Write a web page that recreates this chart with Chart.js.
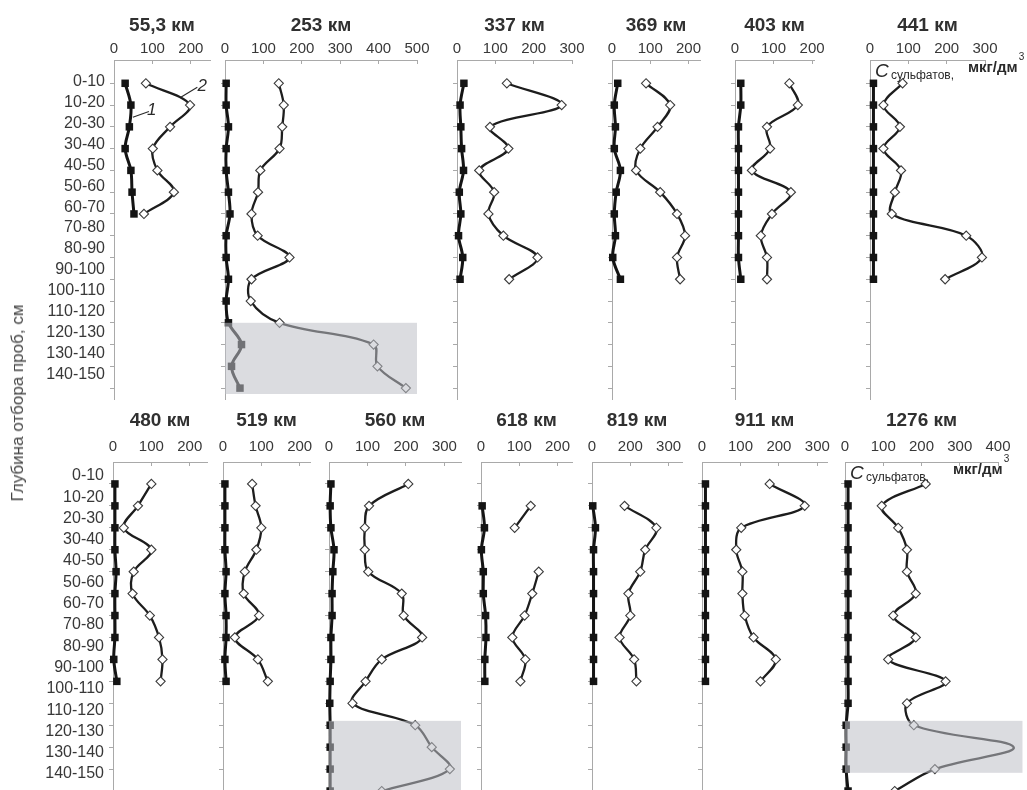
<!DOCTYPE html>
<html lang="ru">
<head>
<meta charset="utf-8">
<title>Сульфаты по глубине</title>
<script src="https://cdn.jsdelivr.net/npm/chart.js@4.4.1/dist/chart.umd.min.js"></script>
<style>
  html, body { margin: 0; padding: 0; background: #fff; overflow: hidden; width: 1027px; height: 790px; }
  #wrap { position: relative; width: 1027px; height: 790px; overflow: hidden; background: #fff; }
  .panel { position: absolute; }
  .panel canvas { display: block; }
  #ytitle {
    position: absolute; left: 17.5px; top: 403px;
    transform: translate(-50%, -50%) rotate(-90deg);
    white-space: nowrap; font: 17px "Liberation Sans", Arial, sans-serif; color: #444; z-index: 5;
  }
</style>
</head>
<body>
<div id="wrap"><div id="ytitle">Глубина отбора проб, см</div></div>
<script>
// Depth intervals (cm), shared by every profile
const depthLabels = ['0-10', '10-20', '20-30', '30-40', '40-50', '50-60', '60-70', '70-80',
  '80-90', '90-100', '100-110', '110-120', '120-130', '130-140', '140-150'];

// Station names (distance along the river)
const stations = ['55,3 км', '253 км', '337 км', '369 км', '403 км', '441 км',
  '480 км', '519 км', '560 км', '618 км', '819 км', '911 км', '1276 км'];

// Series 1 (filled squares) and series 2 (open diamonds), sulfate content, µg/dm³
const s1_55 = [29, 44, 40, 29, 44, 47, 52];
const s2_55 = [83, 198, 146, 101, 113, 156, 78];
const s1_253 = [3, 3, 9, 3, 3, 9, 13, 3, 3, 9, 3, 9, 43, 17, 39];
const s2_253 = [140, 153, 149, 142, 92, 86, 69, 85, 168, 69, 67, 142, 387, 397, 471];
const s1_337 = [18, 8, 10, 12, 17, 6, 10, 4, 15, 8];
const s2_337 = [130, 273, 86, 134, 58, 97, 82, 121, 210, 136];
const s1_369 = [15, 6, 9, 6, 22, 11, 6, 9, 2, 22];
const s2_369 = [89, 152, 119, 74, 63, 126, 170, 191, 170, 178];
const s1_403 = [15, 15, 9, 9, 9, 9, 9, 9, 9, 15];
const s2_403 = [141, 163, 83, 91, 44, 145, 96, 67, 83, 83];
const s1_441 = [9, 9, 9, 9, 9, 9, 9, 9, 9, 9];
const s2_441 = [85, 35, 78, 35, 81, 65, 57, 251, 292, 196];
const s1_480 = [5, 5, 5, 5, 8, 5, 5, 5, 2, 10];
const s2_480 = [100, 65, 28, 100, 54, 51, 96, 120, 129, 124];
const s1_519 = [5, 5, 5, 5, 8, 5, 8, 8, 5, 8];
const s2_519 = [76, 85, 100, 87, 57, 54, 94, 31, 91, 117];
const s1_560 = [5, 3, 5, 13, 10, 8, 8, 5, 5, 3, 2, 3, 3, 3, 3];
const s2_560 = [206, 104, 93, 93, 102, 189, 194, 242, 137, 95, 61, 224, 267, 314, 137];
const s1_618 = [null, 3, 9, 1, 6, 6, 12, 13, 10, 10];
const s2_618 = [null, 130, 88, null, 151, 134, 114, 82, 116, 103];
const s1_819 = [null, 2, 9, 4, 4, 4, 4, 4, 4, 4];
const s2_819 = [null, 85, 168, 139, 126, 95, 100, 72, 110, 116];
const s1_911 = [9, 9, 9, 9, 9, 9, 9, 9, 9, 9];
const s2_911 = [176, 267, 102, 89, 105, 105, 111, 134, 192, 152];
const s1_1276 = [8, 8, 8, 8, 8, 8, 8, 8, 8, 8, 8, 3, 3, 3, 8];
const s2_1276 = [211, 96, 139, 162, 162, 185, 126, 185, 113, 263, 162, 180, 441, 235, 130];

// Axis tick captions for the 819 km profile as printed on its axis
const ticks819 = ['0', '200', '300'];

const FONT = '"Liberation Sans", Arial, Helvetica, sans-serif';
const PX_PER_100 = 38.35;
const AXIS_GREY = '#a9a9a9';
const TEXT = '#383838';

Chart.defaults.font.family = FONT;
Chart.defaults.color = TEXT;
Chart.defaults.animation = false;

// Row geometry (page pixels)
const rows = {
  top:    { axisY: 60,  head: 60, plotH: 339, yMin: -1.07, yMax: 14.5, labFirst: 81.7,  labStep: 20.9, titlePad: 14.5, tickPad: 6.3 },
  bottom: { axisY: 462, head: 62, plotH: 340, yMin: -1.0,  yMax: 14.5, labFirst: 475.8, labStep: 21.3, titlePad: 9.5,  tickPad: 9.7 }
};

const panels = [
  { title: stations[0],  row: 'top',    zero: 114, max: 250, s1: s1_55,   s2: s2_55,   labels: true,
    marks: [ { text: '2', at: [230, 0.12], from: [217, 0.18], to: [174, 0.64] },
             { text: '1', at: [98, 1.23],  from: [91, 1.30],  to: [49, 1.56] } ] },
  { title: stations[1],  row: 'top',    zero: 225, max: 500, s1: s1_253,  s2: s2_253,  shade: [11.0, 14.27] },
  { title: stations[2],  row: 'top',    zero: 457, max: 300, s1: s1_337,  s2: s2_337 },
  { title: stations[3],  row: 'top',    zero: 612, max: 230, s1: s1_369,  s2: s2_369 },
  { title: stations[4],  row: 'top',    zero: 735, max: 205, s1: s1_403,  s2: s2_403 },
  { title: stations[5],  row: 'top',    zero: 870, max: 300, s1: s1_441,  s2: s2_441,  unitAt: 98 },
  { title: stations[6],  row: 'bottom', zero: 113, max: 245, s1: s1_480,  s2: s2_480,  labels: true },
  { title: stations[7],  row: 'bottom', zero: 223, max: 227, s1: s1_519,  s2: s2_519 },
  { title: stations[8],  row: 'bottom', zero: 329, max: 343, s1: s1_560,  s2: s2_560,  shade: [10.8, 14.6] },
  { title: stations[9],  row: 'bottom', zero: 481, max: 238, s1: s1_618,  s2: s2_618 },
  { title: stations[10], row: 'bottom', zero: 592, max: 235, s1: s1_819,  s2: s2_819,  tickText: ticks819 },
  { title: stations[11], row: 'bottom', zero: 702, max: 325, s1: s1_911,  s2: s2_911 },
  { title: stations[12], row: 'bottom', zero: 845, max: 400, s1: s1_1276, s2: s2_1276, shade: [10.8, 13.17], shadeTo: 464, unitAt: 108 }
];

const wrap = document.getElementById('wrap');
const toPoints = arr => arr.map((v, i) => ({ x: v, y: i }));

panels.forEach(p => {
  const row = rows[p.row];
  const L = p.labels ? 112 : 50;
  const R = 60, B = 20;
  const axisLen = Math.round(p.max * PX_PER_100 / 100);

  const box = document.createElement('div');
  box.className = 'panel';
  box.style.left = (p.zero - L) + 'px';
  box.style.top = (row.axisY - row.head) + 'px';
  box.style.width = (L + axisLen + R) + 'px';
  box.style.height = (row.head + row.plotH + B) + 'px';
  const canvas = document.createElement('canvas');
  box.appendChild(canvas);
  wrap.insertBefore(box, document.getElementById('ytitle'));

  const scales = {
    x: {
      type: 'linear', position: 'top', min: 0, max: p.max,
      afterBuildTicks: s => {
        const t = [];
        for (let v = 0; v <= p.max + 0.01; v += 100) t.push({ value: v });
        s.ticks = t;
      },
      ticks: {
        font: { size: 15 }, color: TEXT, padding: row.tickPad, maxRotation: 0, autoSkip: false,
        callback: (v, i) => p.tickText ? p.tickText[i] : String(v)
      },
      grid: { drawOnChartArea: false, tickLength: -4, color: AXIS_GREY, lineWidth: 1 },
      border: { color: AXIS_GREY, width: 1 },
      title: {
        display: true, text: p.title, color: '#303030',
        font: { size: 19, weight: 'bold' }, padding: { top: row.titlePad, bottom: 0 }
      },
      afterFit: s => { s.height = row.head; }
    },
    y: {
      type: 'linear', position: 'left', reverse: true, min: row.yMin, max: row.yMax, weight: 0,
      afterBuildTicks: s => { s.ticks = depthLabels.map((_, i) => ({ value: i })); },
      ticks: { display: false },
      grid: { drawOnChartArea: false, tickLength: 4, color: AXIS_GREY, lineWidth: 1 },
      border: { color: AXIS_GREY, width: 1 },
      afterFit: s => { s.width = p.labels ? 6 : L; }
    }
  };

  if (p.labels) {
    const lMin = -(row.labFirst - row.axisY) / row.labStep;
    scales.yl = {
      type: 'linear', position: 'left', reverse: true, weight: 1,
      min: lMin, max: lMin + row.plotH / row.labStep,
      afterBuildTicks: s => { s.ticks = depthLabels.map((_, i) => ({ value: i })); },
      ticks: {
        autoSkip: false, padding: 3, font: { size: 16 }, color: TEXT,
        callback: v => depthLabels[Math.round(v)]
      },
      grid: { display: false, drawTicks: false },
      border: { display: false },
      afterFit: s => { s.width = L - 6; }
    };
  }

  const extras = {
    id: 'profileExtras',
    afterDatasetsDraw(chart) {
      if (!p.shade) return;
      const ctx = chart.ctx, xs = chart.scales.x, ys = chart.scales.y;
      const x0 = xs.getPixelForValue(0);
      const x1 = xs.getPixelForValue(p.shadeTo !== undefined ? p.shadeTo : p.max);
      const y0 = ys.getPixelForValue(p.shade[0]);
      const y1 = ys.getPixelForValue(p.shade[1]);
      ctx.save();
      ctx.fillStyle = 'rgba(190,192,199,0.55)';
      ctx.fillRect(x0, y0, x1 - x0, y1 - y0);
      ctx.restore();
    },
    afterDraw(chart) {
      const ctx = chart.ctx, xs = chart.scales.x, ys = chart.scales.y;
      ctx.save();
      ctx.fillStyle = '#2a2a2a';
      ctx.strokeStyle = '#2a2a2a';
      if (p.marks) {
        p.marks.forEach(m => {
          ctx.lineWidth = 1.1;
          ctx.beginPath();
          ctx.moveTo(xs.getPixelForValue(m.from[0]), ys.getPixelForValue(m.from[1]));
          ctx.lineTo(xs.getPixelForValue(m.to[0]), ys.getPixelForValue(m.to[1]));
          ctx.stroke();
          ctx.font = 'italic 17px ' + FONT;
          ctx.textAlign = 'center';
          ctx.textBaseline = 'middle';
          ctx.fillText(m.text, xs.getPixelForValue(m.at[0]), ys.getPixelForValue(m.at[1]));
        });
      }
      if (p.unitAt) {
        const left = chart.chartArea.left, top = chart.chartArea.top;
        ctx.textAlign = 'left';
        ctx.textBaseline = 'middle';
        ctx.font = 'italic 19px ' + FONT;
        ctx.fillText('C', left + 5, top + 12);
        ctx.font = '12px ' + FONT;
        ctx.fillText('сульфатов,', left + 21, top + 16);
        ctx.font = 'bold 15px ' + FONT;
        ctx.fillText('мкг/дм', left + p.unitAt, top + 8);
        const w = ctx.measureText('мкг/дм').width;
        ctx.font = '10px ' + FONT;
        ctx.fillText('3', left + p.unitAt + w + 1, top - 3);
      }
      ctx.restore();
    }
  };

  new Chart(canvas, {
    type: 'line',
    data: {
      datasets: [
        {
          label: '2', data: toPoints(p.s2), xAxisID: 'x', yAxisID: 'y',
          borderColor: '#1d1d1d', borderWidth: 2.3, tension: 0.35, spanGaps: false, clip: false,
          pointStyle: 'rectRot', pointRadius: 4.6, pointBackgroundColor: '#ffffff',
          pointBorderColor: '#3a3a3a', pointBorderWidth: 1.1
        },
        {
          label: '1', data: toPoints(p.s1), xAxisID: 'x', yAxisID: 'y',
          borderColor: '#141414', borderWidth: 3, tension: 0.35, spanGaps: false, clip: false,
          pointStyle: 'rect', pointRadius: 5.3, pointBackgroundColor: '#141414',
          pointBorderColor: '#141414', pointBorderWidth: 0
        }
      ]
    },
    options: {
      indexAxis: 'y',
      responsive: true,
      maintainAspectRatio: false,
      animation: false,
      events: [],
      layout: { padding: { left: 0, right: R, top: 0, bottom: B } },
      elements: { line: { capBezierPoints: false } },
      plugins: { legend: { display: false }, tooltip: { enabled: false }, title: { display: false } },
      scales
    },
    plugins: [extras]
  });
});
</script>
</body>
</html>
